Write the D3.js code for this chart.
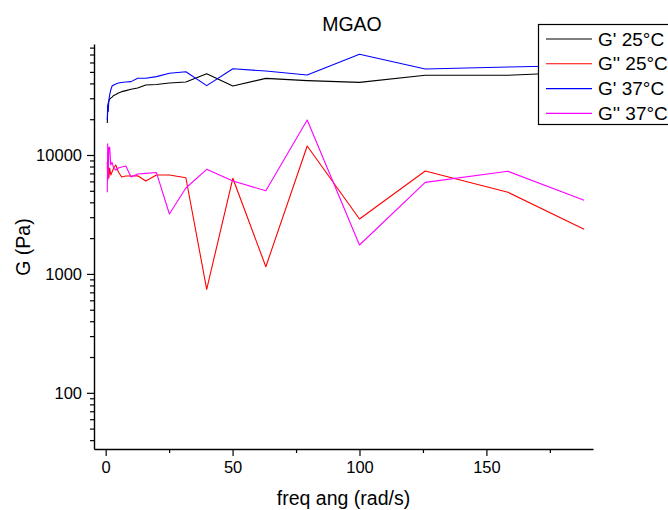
<!DOCTYPE html>
<html>
<head>
<meta charset="utf-8">
<script src="https://cdnjs.cloudflare.com/ajax/libs/d3/7.8.5/d3.min.js"></script>
<style>
  body { margin: 0; background: #fff; }
  text { font-family: Arial, "Liberation Sans", sans-serif; }
</style>
</head>
<body>
<svg id="chart" width="668" height="510"></svg>
<script>
// MGAO - G' / G'' vs frequencia angular

var freq = [0.631, 0.794, 1, 1.26, 1.58, 2, 2.51, 3.16, 3.98, 5.01, 6.31, 7.94, 10, 12.6,
            15.8, 20, 25.1, 31.6, 39.8, 50.1, 63.1, 79.4, 100, 125.9, 158.5, 188.5];

var gp25 = [18600, 23900, 27400, 28400, 29600, 30100, 30700, 31700, 32300, 33200, 34100, 34800, 35700, 36600,
            38800, 39200, 40300, 41100, 48300, 38000, 44100, 42200, 40800, 46800, 46800, 49900];

var gpp25 = [8730, 6160, 9440, 6410, 7770, 6790, 7190, 7770, 8240, 7190, 6530, 6660, 6660, 6700,
             6040, 6790, 6790, 6440, 742, 6370, 1150, 11900, 2895, 7330, 4860, 2370];

var gp37 = [19700, 26300, 23100, 29000, 32000, 35200, 38000, 38800, 39600, 40300, 40700, 41100, 41400, 44200,
            44200, 45600, 48700, 50200, 38300, 53200, 50800, 47100, 70300, 52900, 55000, 56500];

var gpp37 = [4860, 12400, 6410, 11600, 11600, 8240, 8680, 7770, 7480, 7770, 7920, 8080, 6530, 6920,
             7010, 7120, 3190, 5280, 7580, 6040, 5010, 19700, 1750, 5890, 7290, 4160];

var seriesNames = ["G' 25°C", "G'' 25°C", "G' 37°C", "G'' 37°C"];
var seriesColors = ["#000000", "#ff0000", "#0000ff", "#ff00ff"];
var seriesValues = [gp25, gpp25, gp37, gpp37];

var xMajor = [0, 50, 100, 150];
var xMinor = [25, 75, 125, 175];
var yMajor = [100, 1000, 10000];

var svg = d3.select("#chart");

var x = d3.scaleLinear().domain([-4.6, 192.0]).range([94, 593]);
var y = d3.scaleLog().domain([33.7, 85800]).range([449, 44]);

// minor ticks do eixo log
var yMinor = [];
[10, 100, 1000, 10000].forEach(function(dec) {
  for (var k = 2; k <= 9; k++) {
    var v = dec * k;
    if (v >= 33.7 && v <= 85800) yMinor.push(v);
  }
});

// eixo x
svg.append("g")
    .attr("transform", "translate(0,449)")
    .call(d3.axisBottom(x).tickValues(xMinor).tickFormat("").tickSize(4).tickSizeOuter(0))
    .call(function(g) { g.select(".domain").remove(); });

var gx = svg.append("g")
    .attr("transform", "translate(0,449)")
    .call(d3.axisBottom(x).tickValues(xMajor).tickFormat(d3.format("d")).tickSize(7).tickSizeOuter(0).tickPadding(5));

// eixo y
svg.append("g")
    .attr("transform", "translate(94,0)")
    .call(d3.axisLeft(y).tickValues(yMinor).tickFormat("").tickSize(4).tickSizeOuter(0))
    .call(function(g) { g.select(".domain").remove(); });

var gy = svg.append("g")
    .attr("transform", "translate(94,0)")
    .call(d3.axisLeft(y).tickValues(yMajor).tickFormat(d3.format("d")).tickSize(7).tickSizeOuter(0).tickPadding(5));

svg.selectAll(".tick line").attr("stroke", "#000").attr("stroke-width", 1.2);
svg.selectAll(".domain").attr("stroke", "#000").attr("stroke-width", 1.4);
svg.selectAll(".tick text")
    .attr("fill", "#000")
    .style("font-family", "Arial, 'Liberation Sans', sans-serif")
    .style("font-size", "16.5px");

// linhas
var line = d3.line()
    .x(function(d, i) { return x(freq[i]); })
    .y(function(d) { return y(d); });

seriesValues.forEach(function(vals, s) {
  svg.append("path")
      .datum(vals)
      .attr("fill", "none")
      .attr("stroke", seriesColors[s])
      .attr("stroke-width", 1.1)
      .attr("stroke-linejoin", "round")
      .attr("d", line);
});

// titulos
svg.append("text")
    .attr("x", 352).attr("y", 30.5)
    .attr("text-anchor", "middle")
    .style("font-size", "19.5px")
    .text("MGAO");

svg.append("text")
    .attr("x", 343.5).attr("y", 505)
    .attr("text-anchor", "middle")
    .style("font-size", "19.5px")
    .text("freq ang (rad/s)");

svg.append("text")
    .attr("transform", "translate(30,247) rotate(-90)")
    .attr("text-anchor", "middle")
    .style("font-size", "19.5px")
    .text("G (Pa)");

// legenda
var legend = svg.append("g");
legend.append("rect")
    .attr("x", 538.5).attr("y", 24.5)
    .attr("width", 140).attr("height", 100)
    .attr("fill", "#fff")
    .attr("stroke", "#000")
    .attr("stroke-width", 1.2);

var item = legend.selectAll(".item")
    .data(seriesNames)
    .enter().append("g")
      .attr("class", "item")
      .attr("transform", function(d, i) { return "translate(0," + (39 + i * 24.8) + ")"; });

item.append("line")
    .attr("x1", 546).attr("x2", 592)
    .attr("stroke", function(d, i) { return seriesColors[i]; })
    .attr("stroke-width", 1.1);

item.append("text")
    .attr("x", 598)
    .attr("dy", "0.35em")
    .style("font-size", "19px")
    .text(function(d) { return d; });
</script>
</body>
</html>
